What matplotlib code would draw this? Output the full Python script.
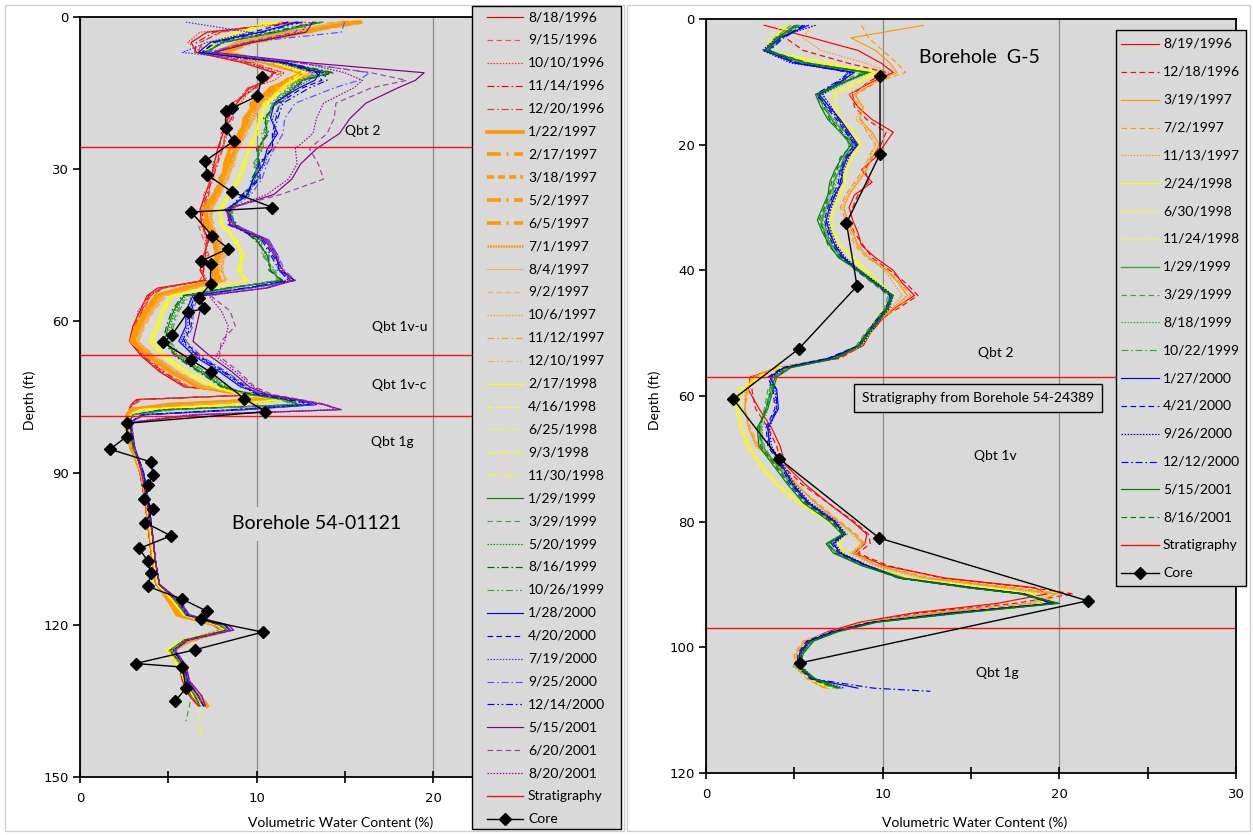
import numpy as np
import matplotlib
matplotlib.use("Agg")
import matplotlib.pyplot as plt
from matplotlib.lines import Line2D
from matplotlib.patches import Rectangle

nan = np.nan
plt.rcParams['lines.scale_dashes'] = False
plt.rcParams['font.family'] = ['Lato', 'DejaVu Sans']

# ---------------- Borehole 54-01121 (left) ----------------
depth_left = [1, 3, 5, 7, 9, 11, 12.5, 14, 17, 20, 23, 26, 29, 32, 35, 38, 41, 44, 47, 50,
              52, 53.5, 55, 58, 61, 64, 67, 70, 73, 74.5, 75.5, 76.5, 77.5, 78.5,
              80, 85, 90, 96, 102, 108, 112, 115, 118, 120, 121, 123, 125, 128, 131, 134, 136, 139, 142]

L_19960818 = [12.4, 7.2, 6.3, 6.6, 9.2, 11.0, 10.6, 9.6, 8.9, 8.4, 8.1, 7.8, 7.6, 7.4, 7.1, 6.8, 6.9, 7.3, 7.0, 6.8, 7.1, 4.4, 3.8, 3.4, 3.0, 2.8, 3.5, 4.5, 5.9, 10.6, 3.2, 2.9, 2.8, 2.7, 2.6, 2.9, 3.4, 3.7, 3.9, 4.1, 4.3, 5.4, 6.0, 7.5, 8.0, 6.1, 5.0, 5.6, 5.8, 6.2, 6.7, nan, nan]
L_19960915 = [11.5, 8.0, 6.8, 7.0, 9.8, 11.5, 10.2, 10.0, 8.6, 8.7, 8.3, 8.1, 7.8, 7.3, 7.3, 7.0, 6.7, 7.0, 7.3, 7.0, 6.8, 4.8, 4.0, 3.6, 3.2, 3.0, 3.7, 4.8, 6.2, 10.2, 3.6, 3.0, 2.8, 2.7, 2.6, 2.9, 3.4, 3.7, 3.9, 4.2, 4.3, 5.2, 5.8, 7.7, 8.1, 5.9, 5.1, 5.7, 6.0, 6.4, 6.9, nan, nan]
L_19961010 = [12.8, 6.8, 6.1, 6.9, 9.4, 11.6, 11.0, 9.7, 9.1, 8.3, 8.4, 8.0, 7.5, 7.6, 7.0, 7.1, 7.0, 7.1, 7.2, 6.9, 7.2, 4.6, 3.9, 3.3, 3.1, 2.9, 3.6, 4.6, 6.1, 10.4, 3.4, 3.0, 2.8, 2.7, 2.6, 3.0, 3.4, 3.7, 3.9, 4.1, 4.3, 5.3, 5.9, 7.6, 7.9, 6.0, 4.9, 5.6, 5.9, 6.3, 6.8, nan, nan]
L_19961114 = [11.8, 7.6, 6.6, 6.5, 9.6, 11.1, 10.4, 9.9, 8.7, 8.6, 8.0, 7.9, 7.8, 7.5, 7.2, 6.9, 7.0, 7.2, 7.1, 7.0, 7.0, 4.7, 3.9, 3.5, 3.1, 2.9, 3.6, 4.7, 6.0, 10.5, 3.3, 2.9, 2.8, 2.7, 2.6, 2.9, 3.4, 3.7, 3.9, 4.1, 4.3, 5.3, 5.9, 7.6, 8.0, 6.0, 5.0, 5.6, 5.9, 6.3, 6.8, nan, nan]
L_19961220 = [12.2, 7.9, 6.9, 6.7, 9.3, 10.9, 10.7, 9.5, 8.8, 8.5, 8.2, 8.1, 7.7, 7.4, 7.3, 7.0, 6.8, 7.3, 7.0, 6.9, 7.1, 4.6, 4.0, 3.5, 3.2, 3.0, 3.6, 4.6, 6.0, 10.1, 3.5, 3.0, 2.8, 2.7, 2.6, 2.9, 3.4, 3.7, 4.0, 4.1, 4.3, 5.3, 5.9, 7.6, 8.0, 6.0, 5.0, 5.6, 5.9, 6.3, 6.8, nan, nan]
L_19970122 = [15.8, 12.0, 9.0, 7.8, 10.5, 12.6, 11.9, 10.8, 10.0, 9.3, 9.2, 8.5, 8.2, 8.1, 7.6, 7.0, 7.3, 7.5, 7.9, 7.5, 7.7, 5.8, 4.3, 3.7, 3.2, 2.9, 3.9, 5.1, 6.7, 9.8, 10.8, 5.0, 2.9, 2.7, 2.6, 2.9, 3.5, 3.8, 4.0, 4.2, 4.4, 5.0, 5.5, 7.7, 8.3, 6.1, 5.1, 5.8, 6.0, 6.5, 7.2, nan, nan]
L_19970217 = [15.2, 12.8, 9.8, 8.2, 11.0, 13.0, 11.6, 11.2, 9.7, 9.6, 9.0, 8.8, 8.5, 7.9, 7.8, 7.3, 7.1, 7.7, 7.7, 7.7, 7.9, 6.2, 4.5, 3.9, 3.4, 3.1, 4.1, 5.3, 6.9, 9.3, 11.2, 5.8, 3.0, 2.7, 2.6, 2.9, 3.5, 3.8, 4.0, 4.2, 4.4, 5.1, 5.6, 7.9, 8.4, 6.3, 5.2, 5.9, 6.1, 6.7, 7.3, nan, nan]
L_19970318 = [16.0, 12.4, 9.3, 7.9, 10.9, 12.9, 12.0, 11.0, 10.1, 9.4, 9.2, 8.6, 8.3, 8.0, 7.6, 7.2, 7.2, 7.5, 7.8, 7.6, 7.8, 6.0, 4.4, 3.8, 3.3, 3.0, 4.0, 5.2, 6.8, 9.5, 11.1, 5.6, 2.9, 2.7, 2.6, 2.9, 3.5, 3.8, 4.0, 4.2, 4.4, 5.0, 5.6, 7.8, 8.3, 6.2, 5.2, 5.8, 6.0, 6.6, 7.2, nan, nan]
L_19970502 = [15.0, 12.6, 9.6, 8.1, 10.7, 12.7, 11.7, 11.1, 9.8, 9.5, 9.0, 8.7, 8.4, 8.1, 7.8, 7.1, 7.3, 7.6, 7.7, 7.6, 7.8, 6.1, 4.4, 3.8, 3.4, 3.0, 4.0, 5.2, 6.8, 9.4, 11.0, 5.5, 2.9, 2.7, 2.6, 2.9, 3.5, 3.8, 4.0, 4.2, 4.4, 5.0, 5.6, 7.8, 8.2, 6.2, 5.2, 5.8, 6.0, 6.6, 7.1, nan, nan]
L_19970605 = [15.6, 12.2, 9.4, 8.0, 10.8, 12.8, 11.8, 10.9, 9.9, 9.4, 9.1, 8.5, 8.4, 8.0, 7.7, 7.2, 7.1, 7.6, 7.8, 7.5, 7.7, 5.9, 4.4, 3.8, 3.3, 3.0, 4.0, 5.2, 6.8, 9.6, 11.0, 5.4, 2.9, 2.7, 2.6, 2.9, 3.5, 3.8, 4.0, 4.2, 4.4, 5.0, 5.6, 7.8, 8.3, 6.2, 5.2, 5.8, 6.0, 6.6, 7.2, nan, nan]
L_19970701 = [15.4, 12.9, 9.7, 8.3, 11.1, 13.1, 11.9, 11.3, 10.2, 9.7, 9.3, 8.8, 8.6, 8.2, 7.9, 7.4, 7.4, 7.8, 8.0, 7.8, 8.0, 6.2, 4.6, 4.0, 3.5, 3.1, 4.2, 5.4, 7.0, 9.4, 11.3, 6.0, 3.0, 2.7, 2.6, 2.9, 3.5, 3.8, 4.0, 4.2, 4.4, 5.1, 5.7, 7.9, 8.4, 6.3, 5.3, 5.9, 6.1, 6.7, 7.3, nan, nan]
L_19970804 = [14.8, 11.8, 8.8, 7.6, 11.2, 13.4, 12.1, 11.6, 10.1, 9.9, 9.3, 9.0, 8.6, 8.4, 7.8, 7.5, 7.4, 8.0, 8.1, 8.1, 8.2, 6.4, 4.7, 4.0, 3.5, 3.2, 4.1, 5.4, 6.9, 9.6, 11.3, 6.3, 3.1, 2.8, 2.7, 3.0, 3.5, 3.8, 4.0, 4.2, 4.4, 5.2, 5.8, 7.7, 8.1, 6.0, 5.0, 5.7, 6.0, 6.5, 7.0, nan, nan]
L_19970902 = [14.2, 12.3, 9.2, 7.9, 10.8, 13.0, 12.5, 11.4, 10.4, 9.7, 9.5, 8.8, 8.8, 8.2, 8.0, 7.3, 7.6, 7.8, 8.3, 7.9, 8.4, 6.6, 4.9, 4.2, 3.7, 3.3, 4.3, 5.6, 7.1, 9.4, 11.1, 6.6, 3.1, 2.8, 2.7, 3.0, 3.5, 3.8, 4.0, 4.2, 4.4, 5.2, 5.8, 7.7, 8.0, 6.0, 5.0, 5.7, 6.0, 6.5, 7.0, nan, nan]
L_19971006 = [14.6, 11.9, 9.1, 7.7, 11.1, 13.3, 12.2, 11.7, 10.3, 9.8, 9.3, 8.9, 8.7, 8.3, 7.9, 7.4, 7.5, 7.9, 8.2, 8.0, 8.3, 6.5, 4.8, 4.1, 3.6, 3.3, 4.2, 5.5, 7.0, 9.5, 11.2, 6.5, 3.1, 2.8, 2.7, 3.0, 3.5, 3.8, 4.0, 4.2, 4.4, 5.2, 5.8, 7.6, 8.1, 6.0, 5.0, 5.7, 6.0, 6.5, 7.0, nan, nan]
L_19971112 = [14.4, 12.1, 8.9, 7.8, 10.9, 13.1, 12.4, 11.3, 10.2, 9.9, 9.4, 9.0, 8.6, 8.4, 7.9, 7.5, 7.4, 8.0, 8.1, 8.0, 8.2, 6.4, 4.8, 4.1, 3.6, 3.3, 4.2, 5.5, 7.0, 9.5, 11.2, 6.4, 3.1, 2.8, 2.7, 3.0, 3.5, 3.8, 4.0, 4.2, 4.4, 5.2, 5.8, 7.7, 8.1, 6.0, 5.0, 5.7, 6.0, 6.5, 7.0, nan, nan]
L_19971210 = [14.7, 12.2, 9.0, 7.9, 11.0, 13.2, 12.3, 11.5, 10.4, 9.8, 9.5, 8.9, 8.8, 8.3, 8.0, 7.4, 7.5, 7.9, 8.2, 8.0, 8.3, 6.6, 4.8, 4.1, 3.6, 3.3, 4.2, 5.5, 7.0, 9.5, 11.2, 6.6, 3.1, 2.8, 2.7, 3.0, 3.5, 3.8, 4.0, 4.2, 4.4, 5.2, 5.8, 7.7, 8.1, 6.0, 5.0, 5.7, 6.0, 6.5, 7.0, nan, nan]
L_19980217 = [11.2, 9.2, 7.4, 6.9, 11.2, 12.9, 12.1, 11.4, 10.7, 10.1, 10.1, 9.5, 9.4, 8.9, 8.6, 7.8, 8.1, 8.7, 9.3, 8.9, 9.5, 7.1, 5.1, 4.6, 4.3, 3.9, 4.7, 5.9, 7.5, 9.1, 11.5, 8.3, 3.4, 2.9, 2.7, 3.0, 3.5, 3.8, 4.0, 4.2, 4.4, 5.2, 5.9, 7.8, 8.2, 5.8, 4.9, 5.6, 5.9, 6.4, 6.9, nan, nan]
L_19980416 = [10.8, 8.8, 7.6, 7.1, 10.8, 12.7, 11.9, 11.6, 10.5, 10.3, 9.9, 9.7, 9.2, 9.1, 8.4, 8.0, 7.9, 8.9, 9.1, 9.1, 9.3, 7.3, 5.3, 4.8, 4.5, 4.1, 4.9, 6.1, 7.7, 8.9, 11.3, 8.6, 3.4, 2.9, 2.7, 3.0, 3.5, 3.8, 4.0, 4.2, 4.4, 5.2, 5.9, 7.8, 8.2, 5.8, 4.9, 5.6, 5.9, 6.4, 6.9, nan, nan]
L_19980625 = [11.4, 9.1, 7.3, 7.0, 11.1, 12.8, 12.2, 11.3, 10.6, 10.2, 10.0, 9.6, 9.3, 9.0, 8.5, 7.9, 8.0, 8.8, 9.2, 9.0, 9.4, 7.2, 5.2, 4.7, 4.4, 4.0, 4.8, 6.0, 7.6, 9.0, 11.4, 8.5, 3.4, 2.9, 2.7, 3.0, 3.5, 3.8, 4.0, 4.2, 4.4, 5.2, 5.9, 7.8, 8.2, 5.8, 4.9, 5.6, 5.9, 6.4, 6.9, nan, nan]
L_19980903 = [10.6, 9.0, 7.7, 7.2, 10.9, 12.6, 11.8, 11.5, 10.4, 10.3, 9.9, 9.5, 9.4, 9.1, 8.6, 8.0, 8.1, 8.9, 9.3, 9.1, 9.5, 7.3, 5.2, 4.8, 4.5, 4.1, 4.9, 6.1, 7.7, 9.0, 11.4, 8.6, 3.4, 2.9, 2.7, 3.0, 3.5, 3.8, 4.0, 4.2, 4.4, 5.2, 5.9, 7.8, 8.2, 5.8, 4.9, 5.6, 5.9, 6.4, 6.9, 6.7, 6.9]
L_19981130 = [11.0, 8.9, 7.5, 6.9, 11.0, 12.9, 12.0, 11.6, 10.6, 10.1, 10.0, 9.7, 9.2, 9.0, 8.4, 7.9, 8.0, 8.8, 9.1, 9.0, 9.4, 7.2, 5.2, 4.7, 4.4, 4.0, 4.8, 6.0, 7.6, 9.0, 11.4, 8.5, 3.4, 2.9, 2.7, 3.0, 3.5, 3.8, 4.0, 4.2, 4.4, 5.2, 5.9, 7.8, 8.2, 5.8, 4.9, 5.6, 5.9, 6.4, 6.9, nan, nan]
L_19990129 = [13.7, 11.2, 8.1, 7.1, 11.6, 14.2, 12.6, 12.1, 11.1, 10.5, 10.6, 10.1, 10.1, 9.8, 9.5, 8.4, 8.8, 10.0, 10.6, 10.8, 11.4, 8.4, 5.9, 5.3, 5.0, 4.8, 5.5, 6.8, 8.1, 9.7, 11.6, 12.4, 4.8, 3.0, 2.8, 3.0, 3.6, 3.9, 4.1, 4.3, 4.5, 5.4, 6.0, 7.9, 8.3, 5.9, 5.1, 5.8, 6.0, 6.5, 6.8, nan, nan]
L_19990329 = [13.3, 10.8, 7.9, 7.3, 11.4, 13.8, 12.4, 11.9, 10.9, 10.7, 10.4, 10.3, 9.9, 10.0, 9.3, 8.6, 8.6, 10.2, 10.4, 11.0, 11.2, 8.6, 6.1, 5.5, 5.2, 5.0, 5.7, 7.0, 8.3, 9.5, 11.4, 12.2, 5.2, 3.0, 2.8, 3.0, 3.6, 3.9, 4.1, 4.3, 4.5, 5.4, 6.0, 7.9, 8.3, 5.9, 5.1, 5.8, 6.0, 6.3, 6.2, 6.0, nan]
L_19990520 = [13.6, 11.1, 8.0, 7.2, 11.5, 14.0, 12.5, 12.0, 11.0, 10.6, 10.5, 10.2, 10.0, 9.9, 9.4, 8.5, 8.7, 10.1, 10.5, 10.9, 11.3, 8.5, 6.0, 5.4, 5.1, 4.9, 5.6, 6.9, 8.2, 9.6, 11.5, 12.3, 5.0, 3.0, 2.8, 3.0, 3.6, 3.9, 4.1, 4.3, 4.5, 5.4, 6.0, 7.9, 8.3, 5.9, 5.1, 5.8, 6.0, 6.5, 6.8, nan, nan]
L_19990816 = [13.4, 10.9, 8.2, 7.0, 11.7, 14.4, 12.7, 12.2, 11.2, 10.4, 10.7, 10.0, 10.2, 9.7, 9.6, 8.3, 8.9, 9.9, 10.7, 10.7, 11.5, 8.3, 5.8, 5.2, 4.9, 4.7, 5.4, 6.7, 8.0, 9.8, 11.7, 12.5, 4.6, 3.0, 2.8, 3.0, 3.6, 3.9, 4.1, 4.3, 4.5, 5.4, 6.0, 7.9, 8.3, 5.9, 5.1, 5.8, 6.0, 6.5, 6.8, nan, nan]
L_19991026 = [13.8, 11.3, 7.8, 7.4, 11.3, 13.7, 12.3, 11.8, 10.8, 10.8, 10.3, 10.4, 9.8, 10.1, 9.2, 8.7, 8.5, 10.3, 10.3, 11.1, 11.1, 8.7, 6.2, 5.6, 5.3, 5.1, 5.8, 7.1, 8.4, 9.4, 11.3, 12.1, 5.4, 3.0, 2.8, 3.0, 3.6, 3.9, 4.1, 4.3, 4.5, 5.4, 6.0, 7.9, 8.3, 5.9, 5.1, 5.8, 6.0, 6.5, 6.8, nan, nan]
L_20000128 = [12.3, 10.2, 7.4, 6.7, 11.6, 13.6, 13.3, 12.4, 11.0, 10.8, 11.2, 10.6, 10.4, 9.8, 9.5, 8.3, 8.7, 10.6, 11.1, 11.3, 12.2, 9.6, 6.4, 6.0, 6.0, 5.6, 6.5, 7.9, 9.1, 10.4, 12.2, 13.4, 9.4, 3.7, 2.8, 3.1, 3.6, 3.9, 4.1, 4.3, 4.5, 5.5, 6.1, 8.2, 8.5, 6.1, 5.3, 5.9, 6.1, 6.7, 7.0, nan, nan]
L_20000420 = [11.8, 9.8, 7.6, 6.9, 11.4, 13.4, 13.7, 12.6, 11.3, 11.1, 10.9, 10.9, 10.2, 10.2, 9.3, 8.5, 8.5, 10.4, 10.9, 11.5, 11.9, 9.4, 6.6, 6.3, 6.3, 5.9, 6.8, 8.2, 9.4, 10.1, 11.9, 13.1, 8.8, 3.6, 2.8, 3.1, 3.6, 3.9, 4.1, 4.3, 4.5, 5.5, 6.1, 8.2, 8.5, 6.1, 5.3, 5.9, 6.1, 6.7, 7.0, nan, nan]
L_20000719 = [6.0, 9.6, 7.2, 5.8, 11.2, 13.2, 13.0, 12.2, 11.4, 10.9, 11.1, 10.7, 10.5, 9.9, 9.6, 8.2, 8.8, 10.7, 11.2, 11.2, 12.1, 9.7, 6.3, 6.1, 6.1, 5.7, 6.6, 8.0, 9.2, 10.3, 12.1, 13.3, 9.2, 3.6, 2.8, 3.1, 3.6, 3.9, 4.1, 4.3, 4.5, 5.5, 6.1, 8.2, 8.5, 6.1, 5.3, 5.9, 6.1, 6.7, 7.0, nan, nan]
L_20000925 = [15.0, 14.8, 9.5, 7.2, 12.5, 16.4, 15.8, 14.4, 12.2, 11.6, 11.5, 11.0, 10.6, 10.3, 9.7, 8.6, 8.7, 10.6, 11.2, 11.6, 12.2, 9.6, 6.7, 6.4, 6.4, 6.0, 6.9, 8.3, 9.5, 10.3, 12.1, 13.4, 9.0, 3.6, 2.8, 3.1, 3.6, 3.9, 4.1, 4.3, 4.5, 5.5, 6.1, 8.2, 8.5, 6.1, 5.3, 5.9, 6.1, 6.7, 7.0, nan, nan]
L_20001214 = [12.6, 10.4, 7.7, 6.9, 11.8, 13.8, 14.0, 13.0, 11.5, 11.2, 11.0, 10.9, 10.1, 10.1, 9.2, 8.4, 8.4, 10.3, 10.8, 11.3, 11.8, 9.3, 6.5, 6.2, 6.2, 5.8, 6.7, 8.1, 9.3, 10.0, 11.8, 13.0, 8.6, 3.5, 2.8, 3.1, 3.6, 3.9, 4.1, 4.3, 4.5, 5.5, 6.1, 8.2, 8.5, 6.1, 5.3, 5.9, 6.1, 6.7, 7.0, nan, nan]
L_20010515 = [13.2, 12.8, 9.8, 7.6, 12.8, 19.5, 19.0, 18.0, 16.2, 15.3, 14.7, 13.4, 12.5, 12.0, 11.0, 8.3, 8.5, 10.5, 11.0, 11.5, 12.1, 10.6, 7.0, 6.8, 6.6, 6.4, 7.4, 8.6, 9.6, 10.6, 12.3, 13.8, 14.8, 6.8, 2.9, 3.1, 3.5, 3.8, 4.1, 4.3, 4.5, 5.6, 6.2, 8.4, 8.7, 6.0, 5.4, 6.0, 6.2, 6.9, 7.1, nan, nan]
L_20010620 = [12.6, 12.2, 9.4, 7.4, 12.2, 16.5, 18.5, 16.5, 14.5, 14.4, 14.0, 13.0, 13.5, 13.8, 11.4, 8.2, 8.7, 10.6, 11.1, 11.5, 12.0, 10.4, 7.4, 8.5, 8.8, 8.0, 7.9, 9.0, 9.9, 10.9, 12.5, 14.0, 14.6, 6.4, 2.9, 3.1, 3.5, 3.8, 4.1, 4.3, 4.5, 5.6, 6.2, 8.4, 8.7, 6.0, 5.4, 6.0, 6.2, 6.9, 7.1, nan, nan]
L_20010820 = [13.0, 12.5, 9.6, 7.5, 12.5, 15.0, 16.0, 15.5, 13.8, 13.4, 13.2, 12.2, 12.3, 11.8, 10.6, 8.3, 8.6, 10.7, 11.2, 11.4, 11.9, 10.5, 7.3, 8.0, 8.4, 8.2, 7.7, 8.8, 9.8, 10.7, 12.4, 13.9, 14.5, 6.2, 2.9, 3.1, 3.5, 3.8, 4.1, 4.3, 4.5, 5.6, 6.2, 8.4, 8.7, 6.0, 5.4, 6.0, 6.2, 6.9, 7.1, nan, nan]

strat_left = [25.7, 66.7, 78.7]
core_left_depth = [11.9, 15.6, 18.0, 18.6, 22.0, 24.5, 28.4, 31.1, 34.5, 37.6, 38.5, 43.2, 45.7, 48.2, 48.7,
                   52.6, 55.4, 57.5, 58.3, 62.8, 64.2, 67.7, 70.1, 75.3, 77.9, 80.2, 82.8, 85.3, 87.8, 90.3,
                   92.4, 95.1, 97.2, 99.8, 102.4, 104.9, 107.4, 109.8, 112.4, 114.9, 117.3, 118.9, 121.4,
                   124.9, 127.6, 128.3, 132.5, 135.0]
core_left_value = [10.3, 10.05, 8.6, 8.25, 8.25, 8.7, 7.1, 7.2, 8.6, 10.9, 6.3, 7.5, 8.4, 6.85, 7.4,
                   7.4, 6.75, 7.05, 6.1, 5.2, 4.7, 6.3, 7.4, 9.3, 10.5, 2.65, 2.65, 1.7, 4.0, 4.15,
                   3.85, 3.65, 4.15, 3.7, 5.15, 3.35, 3.85, 4.0, 3.85, 5.8, 7.2, 6.85, 10.35,
                   6.5, 3.15, 5.8, 6.0, 5.4]

# ---------------- Borehole G-5 (right) ----------------
depth_right = [1, 3, 5, 7, 8.5, 10, 12, 14, 16, 18, 20, 22, 24, 26, 28, 30, 32, 34, 36, 38,
               40, 42, 44, 46, 48, 50, 52, 54, 55.5, 57, 59, 62, 65, 68, 71, 74, 77,
               80, 82, 83.5, 85, 87, 89, 90.5, 91.5, 93, 94.5, 96, 97.5, 99, 101, 103, 105, 106.5, 107]

R_19960819 = [3.3, 6.0, 8.6, 9.9, 10.6, 9.4, 8.1, 8.6, 9.4, 10.6, 10.1, 9.6, 8.8, 9.4, 8.4, 8.1, 8.3, 8.6, 8.8, 9.6, 10.6, 11.1, 11.8, 10.7, 9.9, 9.3, 8.9, 7.4, 4.1, 2.5, 2.4, 3.0, 3.7, 4.2, 4.5, 5.6, 6.9, 8.3, 9.1, 9.0, 8.4, 10.1, 13.6, 18.6, 19.3, 16.5, 11.8, 8.7, 6.9, 5.7, 5.3, 5.2, 5.9, 6.9, nan]
R_19961218 = [5.0, 4.5, 5.5, 8.0, 10.2, 9.2, 8.3, 8.4, 9.1, 10.2, 9.9, 9.4, 9.0, 9.2, 8.6, 8.3, 8.1, 8.4, 8.9, 9.4, 10.4, 11.3, 12.0, 10.9, 9.7, 9.2, 8.8, 7.6, 4.3, 2.7, 2.6, 2.8, 3.5, 4.0, 4.3, 5.4, 6.9, 8.4, 9.2, 9.3, 8.6, 10.3, 13.4, 18.4, 20.8, 17.5, 12.2, 8.9, 7.0, 5.7, 5.2, 5.2, 5.8, 6.8, nan]
R_19970319 = [12.3, 8.2, 9.6, 10.4, 10.8, 9.6, 8.4, 8.9, 8.7, 9.4, 9.8, 9.4, 9.1, 8.6, 8.1, 7.8, 8.0, 8.3, 8.6, 9.2, 10.2, 10.9, 11.4, 10.6, 9.7, 9.2, 8.7, 7.0, 4.0, 2.7, 2.3, 2.2, 2.4, 2.9, 4.1, 5.1, 6.2, 7.5, 8.4, 8.9, 8.3, 9.7, 12.5, 17.0, 19.8, 18.5, 13.0, 9.0, 7.1, 5.6, 5.1, 5.1, 5.8, 6.8, nan]
R_19970702 = [8.8, 9.2, 10.0, 10.8, 11.3, 9.7, 8.5, 8.6, 8.8, 9.1, 9.6, 9.2, 8.9, 8.4, 7.9, 7.6, 7.9, 8.2, 8.4, 9.1, 10.3, 11.0, 11.6, 10.8, 9.8, 9.3, 8.8, 7.1, 4.1, 2.8, 2.4, 2.2, 2.5, 3.0, 4.0, 5.0, 6.3, 7.6, 8.5, 9.0, 8.4, 9.9, 12.8, 17.5, 20.2, 18.8, 13.3, 9.1, 7.1, 5.5, 5.0, 5.0, 5.7, 6.7, nan]
R_19971113 = [6.0, 5.5, 6.5, 9.0, 10.4, 9.3, 8.1, 8.8, 8.5, 9.3, 9.6, 9.3, 9.0, 8.5, 8.0, 7.7, 8.1, 8.4, 8.5, 9.3, 10.1, 10.6, 11.1, 10.5, 9.6, 9.1, 8.6, 6.9, 3.9, 2.6, 2.2, 2.2, 2.4, 2.8, 4.1, 5.2, 6.1, 7.4, 8.3, 8.8, 8.2, 9.5, 12.2, 16.5, 19.4, 18.3, 12.8, 9.0, 7.1, 5.7, 5.2, 5.1, 5.9, 6.9, nan]
R_19980224 = [4.6, 3.9, 3.3, 7.0, 9.8, 8.7, 7.3, 7.4, 7.7, 8.4, 8.8, 8.3, 8.0, 7.9, 7.6, 7.3, 7.1, 7.3, 7.6, 8.4, 9.1, 9.9, 10.6, 10.3, 9.7, 9.3, 8.8, 7.3, 4.3, 3.0, 2.0, 1.8, 2.0, 2.4, 3.1, 4.0, 5.3, 7.0, 7.8, 7.5, 7.8, 9.0, 11.5, 16.0, 18.5, 19.2, 14.0, 9.3, 7.2, 5.8, 5.3, 5.2, 5.9, 7.0, nan]
R_19980630 = [4.3, 3.6, 3.5, 6.2, 9.5, 8.5, 7.0, 7.2, 7.5, 8.2, 8.6, 8.1, 7.8, 7.7, 7.4, 7.1, 6.9, 7.1, 7.4, 8.2, 8.9, 9.7, 10.4, 10.1, 9.5, 9.1, 8.6, 7.1, 4.1, 2.8, 1.9, 1.7, 1.9, 2.3, 3.0, 3.9, 5.2, 6.9, 7.7, 7.4, 7.7, 8.9, 11.4, 15.8, 18.4, 19.1, 13.8, 9.2, 7.1, 5.7, 5.2, 5.1, 5.8, 6.9, nan]
R_19981124 = [4.8, 4.0, 3.4, 6.5, 9.6, 8.6, 7.3, 7.4, 7.6, 8.3, 8.7, 8.2, 7.9, 7.8, 7.5, 7.2, 7.0, 7.2, 7.5, 8.3, 9.0, 9.8, 10.5, 10.2, 9.6, 9.2, 8.7, 7.2, 4.2, 2.9, 2.1, 1.9, 2.1, 2.5, 3.2, 4.1, 5.4, 7.1, 7.9, 7.6, 7.9, 9.1, 11.6, 16.1, 18.6, 19.3, 14.1, 9.4, 7.3, 5.9, 5.4, 5.3, 6.0, 7.1, nan]
R_19990129 = [5.2, 4.1, 3.5, 5.5, 9.1, 7.9, 6.4, 6.8, 7.1, 7.9, 8.4, 7.8, 7.6, 7.2, 7.2, 6.8, 6.5, 6.7, 7.1, 7.7, 8.7, 9.6, 10.5, 10.2, 9.7, 9.1, 8.6, 7.3, 4.7, 3.9, 3.7, 3.4, 3.0, 3.2, 4.0, 4.8, 5.7, 7.2, 7.9, 6.9, 7.4, 9.0, 11.2, 15.0, 18.0, 19.8, 14.3, 9.5, 7.3, 5.9, 5.4, 5.2, 6.0, 7.4, nan]
R_19990329 = [4.8, 3.9, 3.3, 5.3, 8.8, 7.6, 6.3, 6.5, 7.3, 7.7, 8.1, 8.0, 7.4, 7.3, 6.9, 6.7, 6.6, 6.9, 7.0, 7.8, 8.5, 9.4, 10.3, 10.1, 9.6, 9.0, 8.5, 7.1, 4.5, 3.8, 3.5, 3.3, 3.1, 3.3, 3.9, 4.7, 5.6, 7.1, 7.8, 7.0, 7.3, 8.9, 11.1, 14.8, 17.8, 19.6, 14.1, 9.4, 7.2, 5.8, 5.3, 5.1, 5.9, 7.2, nan]
R_19990818 = [5.4, 4.3, 3.6, 5.6, 9.3, 8.0, 6.6, 6.9, 7.0, 8.0, 8.5, 7.9, 7.7, 7.4, 7.1, 6.9, 6.5, 6.8, 7.2, 7.6, 8.6, 9.5, 10.4, 10.3, 9.7, 9.2, 8.7, 7.3, 4.6, 3.7, 3.6, 3.5, 3.2, 3.1, 4.1, 4.9, 5.8, 7.3, 8.0, 6.8, 7.5, 9.1, 11.3, 15.1, 18.1, 19.9, 14.4, 9.6, 7.4, 6.0, 5.5, 4.9, 6.1, 7.5, nan]
R_19991022 = [5.0, 4.0, 3.4, 5.4, 9.0, 7.8, 6.5, 6.6, 7.2, 7.8, 8.3, 7.9, 7.5, 7.3, 7.0, 6.8, 6.6, 6.8, 7.1, 7.7, 8.6, 9.5, 10.4, 10.2, 9.6, 9.1, 8.6, 7.2, 4.6, 3.8, 3.6, 3.4, 3.1, 3.2, 4.0, 4.8, 5.7, 7.2, 7.9, 6.9, 7.4, 9.0, 11.2, 15.0, 18.0, 19.7, 14.2, 9.5, 7.3, 5.9, 5.4, 5.2, 6.0, 7.3, nan]
R_20000127 = [5.8, 4.2, 3.3, 5.0, 8.4, 7.6, 6.4, 7.0, 7.6, 8.1, 8.6, 8.0, 7.7, 7.7, 7.3, 7.0, 6.8, 7.0, 7.3, 7.8, 8.6, 9.6, 10.5, 10.3, 9.7, 9.2, 8.7, 7.0, 4.4, 3.6, 4.0, 4.1, 3.5, 3.6, 4.3, 4.9, 5.8, 7.3, 7.8, 7.2, 7.6, 9.1, 11.0, 15.0, 18.0, 19.6, 14.0, 9.4, 7.2, 5.8, 5.3, 5.3, 6.0, 8.6, nan]
R_20000421 = [5.5, 4.3, 3.5, 5.1, 8.2, 7.5, 6.3, 6.8, 7.4, 7.9, 8.4, 7.9, 7.6, 7.5, 7.2, 6.9, 6.7, 6.9, 7.2, 7.7, 8.5, 9.5, 10.4, 10.2, 9.6, 9.1, 8.6, 6.9, 4.3, 3.5, 3.8, 3.9, 3.4, 3.5, 4.2, 4.8, 5.7, 7.2, 7.7, 7.1, 7.5, 9.0, 10.9, 14.8, 17.9, 19.5, 13.9, 9.3, 7.1, 5.7, 5.2, 5.2, 5.9, 7.6, nan]
R_20000926 = [6.2, 4.0, 3.2, 4.8, 8.3, 7.7, 6.6, 7.1, 7.5, 8.0, 8.5, 8.1, 7.8, 7.6, 7.4, 7.1, 6.9, 7.1, 7.4, 7.9, 8.7, 9.7, 10.6, 10.4, 9.8, 9.3, 8.8, 7.1, 4.5, 3.7, 3.9, 4.0, 3.6, 3.7, 4.4, 5.0, 5.9, 7.4, 7.9, 7.3, 7.7, 9.2, 11.1, 15.2, 18.1, 19.7, 14.1, 9.5, 7.3, 5.9, 5.4, 5.4, 6.1, 7.8, nan]
R_20001212 = [5.6, 4.4, 3.6, 5.2, 8.1, 7.4, 6.2, 6.9, 7.5, 8.0, 8.5, 8.0, 7.7, 7.6, 7.3, 7.0, 6.8, 7.0, 7.3, 7.8, 8.6, 9.6, 10.5, 10.3, 9.7, 9.2, 8.7, 7.0, 4.4, 3.6, 4.0, 4.0, 3.5, 3.6, 4.3, 4.9, 5.8, 7.3, 7.8, 7.2, 7.6, 9.1, 11.0, 15.0, 18.0, 19.6, 14.0, 9.4, 7.2, 5.8, 5.3, 5.3, 6.0, 9.5, 12.7]
R_20010515 = [5.1, 4.0, 3.4, 5.7, 9.2, 7.8, 6.2, 6.5, 6.9, 7.6, 8.2, 7.7, 7.3, 7.0, 6.9, 6.6, 6.3, 6.6, 7.0, 7.5, 8.6, 9.5, 10.6, 10.3, 9.8, 9.2, 8.7, 7.4, 4.8, 4.0, 3.8, 3.5, 2.9, 3.0, 3.8, 4.6, 5.5, 7.0, 7.7, 6.8, 7.2, 8.8, 11.0, 14.8, 17.8, 20.0, 14.6, 9.7, 7.5, 6.1, 5.5, 5.3, 6.2, 7.6, nan]
R_20010816 = [5.3, 4.2, 3.5, 5.8, 9.0, 7.9, 6.3, 6.7, 7.0, 7.7, 8.3, 7.6, 7.4, 7.1, 7.0, 6.7, 6.4, 6.7, 6.9, 7.6, 8.7, 9.6, 10.5, 10.2, 9.7, 9.1, 8.6, 7.3, 4.7, 3.9, 3.7, 3.4, 3.0, 3.1, 3.9, 4.7, 5.6, 7.1, 7.8, 6.9, 7.3, 8.9, 11.1, 14.9, 17.9, 19.9, 14.5, 9.6, 7.4, 6.0, 5.4, 5.2, 6.1, 7.5, nan]

strat_right = [57.0, 97.0]
core_right_depth = [9.0, 21.5, 32.5, 42.5, 52.5, 60.5, 70.0, 82.6, 92.6, 102.5]
core_right_value = [9.85, 9.85, 7.95, 8.55, 5.25, 1.55, 4.15, 9.8, 21.6, 5.3]

# ---------------- styles ----------------
SOLID = '-'
DASH = (0, (4, 2.5))
DOT = (0, (1.1, 1.1))
DDOT = (0, (5, 2, 1.2, 2))
DDD = (0, (5, 2, 1.2, 2, 1.2, 2))
TH_LDD = (0, (10, 4, 1.5, 4))
TH_DASH = (0, (5, 3))
TH_DOT = (0, (1.2, 0.7))
TW = 0.85
TK = 2.6

left_series = [
    ('8/18/1996', L_19960818, '#e00000', TW, SOLID),
    ('9/15/1996', L_19960915, '#ff4848', TW, DASH),
    ('10/10/1996', L_19961010, '#ff3030', TW, DOT),
    ('11/14/1996', L_19961114, '#ff0000', TW, DDOT),
    ('12/20/1996', L_19961220, '#e03c3c', TW, DDOT),
    ('1/22/1997', L_19970122, '#ff9900', TK, SOLID),
    ('2/17/1997', L_19970217, '#ff9900', TK, TH_LDD),
    ('3/18/1997', L_19970318, '#ff9900', TK, TH_DASH),
    ('5/2/1997', L_19970502, '#ff9900', TK, TH_LDD),
    ('6/5/1997', L_19970605, '#ff9900', TK, TH_LDD),
    ('7/1/1997', L_19970701, '#ff9900', 2.0, TH_DOT),
    ('8/4/1997', L_19970804, '#f0b050', TW, SOLID),
    ('9/2/1997', L_19970902, '#f2b060', TW, DASH),
    ('10/6/1997', L_19971006, '#ffa020', TW, DOT),
    ('11/12/1997', L_19971112, '#ffa020', TW, DDOT),
    ('12/10/1997', L_19971210, '#f2b060', TW, DDD),
    ('2/17/1998', L_19980217, '#ffff00', TW, SOLID),
    ('4/16/1998', L_19980416, '#ffff00', TW, DASH),
    ('6/25/1998', L_19980625, '#ffff00', TW, DOT),
    ('9/3/1998', L_19980903, '#ffff00', TW, DDOT),
    ('11/30/1998', L_19981130, '#ffff00', TW, DDD),
    ('1/29/1999', L_19990129, '#008000', TW, SOLID),
    ('3/29/1999', L_19990329, '#40a040', TW, DASH),
    ('5/20/1999', L_19990520, '#009900', TW, DOT),
    ('8/16/1999', L_19990816, '#006600', TW, DDOT),
    ('10/26/1999', L_19991026, '#40a040', TW, DDD),
    ('1/28/2000', L_20000128, '#0000ff', TW, SOLID),
    ('4/20/2000', L_20000420, '#0000cc', TW, DASH),
    ('7/19/2000', L_20000719, '#3333ff', TW, DOT),
    ('9/25/2000', L_20000925, '#5555ff', TW, DDOT),
    ('12/14/2000', L_20001214, '#0000ff', TW, DDD),
    ('5/15/2001', L_20010515, '#800080', TW, SOLID),
    ('6/20/2001', L_20010620, '#a040a0', TW, DASH),
    ('8/20/2001', L_20010820, '#a000a0', TW, DOT),
]

right_series = [
    ('8/19/1996', R_19960819, '#ff0000', TW, SOLID),
    ('12/18/1996', R_19961218, '#ff0000', TW, DASH),
    ('3/19/1997', R_19970319, '#ff9900', TW, SOLID),
    ('7/2/1997', R_19970702, '#ff9900', TW, DASH),
    ('11/13/1997', R_19971113, '#ff9900', TW, DOT),
    ('2/24/1998', R_19980224, '#ffff00', TW, SOLID),
    ('6/30/1998', R_19980630, '#ffff00', TW, DASH),
    ('11/24/1998', R_19981124, '#ffff00', TW, DOT),
    ('1/29/1999', R_19990129, '#40a040', 1.0, SOLID),
    ('3/29/1999', R_19990329, '#40a040', TW, DASH),
    ('8/18/1999', R_19990818, '#33aa33', TW, DOT),
    ('10/22/1999', R_19991022, '#33aa33', TW, DDOT),
    ('1/27/2000', R_20000127, '#0000ff', TW, SOLID),
    ('4/21/2000', R_20000421, '#0000ff', TW, DASH),
    ('9/26/2000', R_20000926, '#0000aa', TW, DOT),
    ('12/12/2000', R_20001212, '#0000ff', TW, DDOT),
    ('5/15/2001', R_20010515, '#008000', TW, SOLID),
    ('8/16/2001', R_20010816, '#008000', TW, DASH),
]

W, H = 1253, 835
BG = '#d9d9d9'
fig = plt.figure(figsize=(W / 100, H / 100), dpi=100)
fig.patch.set_facecolor('white')

def fx(px):
    return px / W

def fy(py):
    return 1 - py / H

axL = fig.add_axes([fx(80), fy(777), (609.5 - 80) / W, (777 - 17) / H])
axR = fig.add_axes([fx(706), fy(773), (1236 - 706) / W, (773 - 19) / H])


def style_axes(ax, ymax, ystep):
    ax.set_facecolor(BG)
    ax.set_xlim(0, 30)
    ax.set_ylim(ymax, 0)
    ax.set_xticks([0, 10, 20, 30])
    ax.set_xticks([5, 15, 25], minor=True)
    ax.set_yticks(np.arange(0, ymax + 1, ystep))
    ax.grid(axis='x', which='major', color='#8a8a8a', lw=0.9)
    ax.set_axisbelow(True)
    ax.tick_params(axis='x', which='both', direction='inout', length=8, width=1.2,
                   pad=7, labelsize=9.5, labelfontfamily='DejaVu Sans')
    ax.tick_params(axis='y', which='major', direction='out', length=5, width=1.2,
                   pad=3, labelsize=9.5, labelfontfamily='DejaVu Sans')
    for s in ax.spines.values():
        s.set_color('black')
        s.set_linewidth(1.3)


style_axes(axL, 150, 30)
style_axes(axR, 120, 20)


def draw(ax, depth, series, strat, cdepth, cval):
    for label, vals, color, lw, ls in series:
        if len(vals) != len(depth):
            raise ValueError(label + ' length %d' % len(vals))
        ax.plot(vals, depth, color=color, lw=lw, linestyle=ls, zorder=2)
    sx, sy = [], []
    for d in strat:
        sx += [0, 30, nan]
        sy += [d, d, nan]
    ax.plot(sx, sy, color='#ff1010', lw=1.0, zorder=2.5)
    ax.plot(cval, cdepth, color='black', lw=1.0, marker='D', ms=6.5, zorder=2.6)


draw(axL, depth_left, left_series, strat_left, core_left_depth, core_left_value)
draw(axR, depth_right, right_series, strat_right, core_right_depth, core_right_value)

# annotations
axL.text(16.0, 22.5, 'Qbt 2', fontsize=10, ha='center', va='center')
axL.text(18.1, 61.2, 'Qbt 1v-u', fontsize=10, ha='center', va='center')
axL.text(18.1, 72.6, 'Qbt 1v-c', fontsize=10, ha='center', va='center')
axL.text(17.7, 83.9, 'Qbt 1g', fontsize=10, ha='center', va='center')
axL.text(13.4, 100.0, 'Borehole 54-01121', fontsize=14, ha='center', va='center',
         bbox=dict(facecolor=BG, edgecolor='none', pad=6), zorder=3)

axR.text(15.5, 6.2, 'Borehole  G-5', fontsize=14, ha='center', va='center')
axR.text(16.4, 53.2, 'Qbt 2', fontsize=10, ha='center', va='center')
axR.text(16.4, 69.6, 'Qbt 1v', fontsize=10, ha='center', va='center')
axR.text(16.5, 104.1, 'Qbt 1g', fontsize=10, ha='center', va='center')
axR.text(15.4, 60.3, 'Stratigraphy from Borehole 54-24389', fontsize=10, ha='center', va='center',
         bbox=dict(facecolor=BG, edgecolor='black', lw=1, pad=6), zorder=3)

# axis titles
fig.text(fx(341), fy(823), 'Volumetric Water Content (%)', fontsize=10, ha='center', va='center')
fig.text(fx(975), fy(823), 'Volumetric Water Content (%)', fontsize=10, ha='center', va='center')
fig.text(fx(30), fy(400), 'Depth (ft)', fontsize=10, ha='center', va='center', rotation=90)
fig.text(fx(655), fy(400), 'Depth (ft)', fontsize=10, ha='center', va='center', rotation=90)

# chart frames
fig.add_artist(Rectangle((fx(5), fy(831)), (624 - 5) / W, (831 - 5) / H, transform=fig.transFigure,
                         facecolor='none', edgecolor='#cfcfcf', lw=1, zorder=0.5))
fig.add_artist(Rectangle((fx(627), fy(831)), (1250 - 627) / W, (831 - 5) / H, transform=fig.transFigure,
                         facecolor='none', edgecolor='#cfcfcf', lw=1, zorder=0.5))


def legend(box, hx0, hx1, tx, y0, dy, series):
    x0, y_top, x1, y_bot = box
    fig.add_artist(Rectangle((fx(x0), fy(y_bot)), (x1 - x0) / W, (y_bot - y_top) / H,
                             transform=fig.transFigure, facecolor=BG, edgecolor='black',
                             lw=1, zorder=5))
    entries = [(lab, c, lw, ls, None) for lab, _, c, lw, ls in series]
    entries.append(('Stratigraphy', '#ff1010', 1.0, SOLID, None))
    entries.append(('Core', 'black', 1.0, SOLID, 'D'))
    for i, (lab, c, lw, ls, mk) in enumerate(entries):
        y = y0 + i * dy
        fig.add_artist(Line2D([fx(hx0), fx(hx1)], [fy(y), fy(y)], transform=fig.transFigure,
                              color=c, lw=lw, linestyle=ls, zorder=6))
        if mk:
            fig.add_artist(Line2D([fx((hx0 + hx1) / 2)], [fy(y)], transform=fig.transFigure,
                                  color='black', marker=mk, ms=6, linestyle='none', zorder=6))
        fig.text(fx(tx), fy(y), lab, fontsize=10, ha='left', va='center', zorder=6)


legend((472, 6, 621, 829), 487, 523, 528, 17, (819 - 17) / 35, left_series)
legend((1116, 30, 1246, 586), 1121, 1159, 1163, 44, (573 - 44) / 19, right_series)

fig.savefig('out.png', dpi=100, facecolor='white')
